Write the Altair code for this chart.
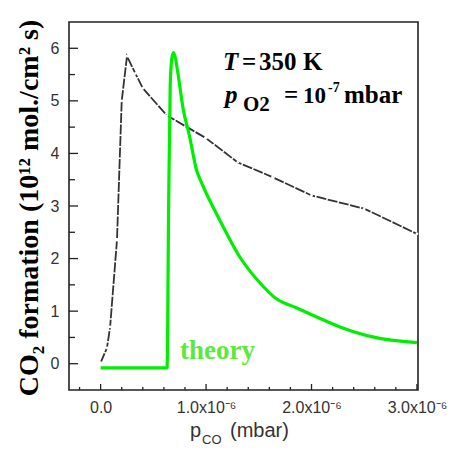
import altair as alt
import pandas as pd

# experimental data (x in mbar, y in 10^12 mol/cm^2 s)
exp_x = [0.0, 0.06e-6, 0.09e-6, 0.155e-6, 0.2e-6, 0.25e-6, 0.33e-6, 0.4e-6, 0.63e-6,
         1.0e-6, 1.3e-6, 1.63e-6, 2.0e-6, 2.5e-6, 3.0e-6]
exp_y = [0.02, 0.3, 0.7, 2.35, 5.0, 5.85, 5.52, 5.24, 4.72,
         4.29, 3.83, 3.55, 3.2, 2.95, 2.47]

# theory curve
th_x = [0.0, 0.63e-6, 0.645e-6, 0.66e-6, 0.675e-6, 0.69e-6, 0.705e-6, 0.735e-6, 0.78e-6,
        0.845e-6, 0.91e-6, 0.96e-6, 1.13e-6, 1.32e-6, 1.51e-6, 1.67e-6, 1.85e-6, 1.96e-6,
        2.27e-6, 2.58e-6, 3.0e-6]
th_y = [-0.08, -0.08, 3.0, 5.3, 5.8, 5.92, 5.85, 5.5, 4.88,
        4.31, 3.68, 3.43, 2.73, 2.03, 1.54, 1.23, 1.07, 0.97,
        0.7, 0.51, 0.4]

x_major = [0.0, 1e-6, 2e-6, 3e-6]
x_minor = [-0.2e-6, 0.2e-6, 0.4e-6, 0.6e-6, 0.8e-6, 1.2e-6, 1.4e-6, 1.6e-6, 1.8e-6,
           2.2e-6, 2.4e-6, 2.6e-6, 2.8e-6]
y_major = [0, 1, 2, 3, 4, 5, 6]
y_minor = [0.5, 1.5, 2.5, 3.5, 4.5, 5.5]

W, H = 349, 368
OX, OY = 69, 22  # page position of plot origin

xs = alt.Scale(domain=[-0.3e-6, 3.01e-6], nice=False, zero=False)
ys = alt.Scale(domain=[-0.5, 6.5], nice=False, zero=False)

exp_df = pd.DataFrame({"x": exp_x, "y": exp_y})
th_df = pd.DataFrame({"x": th_x, "y": th_y})

base_x_axis = alt.Axis(values=x_major, ticks=False, domain=False, grid=False,
                       labelExpr="datum.value == 0 ? '0.0' : format(datum.value*1e6, '.1f') + 'x10⁻⁶'",
                       labelFont="Liberation Sans", labelFontSize=16, labelColor="#333",
                       labelPadding=9, title=None, labelFlush=False, zindex=1)
base_y_axis = alt.Axis(values=y_major, ticks=False, domain=False, grid=False, format="d",
                       labelFont="Liberation Sans", labelFontSize=16, labelColor="#333",
                       labelPadding=10, title=None, zindex=1)

exp_line = alt.Chart(exp_df).mark_line(color="#333", strokeWidth=1.8, strokeDash=[10, 1.5]).encode(
    x=alt.X("x:Q", scale=xs, axis=base_x_axis),
    y=alt.Y("y:Q", scale=ys, axis=base_y_axis),
)
exp_pts = alt.Chart(exp_df).mark_point(filled=True, color="white", size=8, opacity=1).encode(
    x=alt.X("x:Q", scale=xs), y=alt.Y("y:Q", scale=ys)
)
th_line = alt.Chart(th_df).mark_line(color="#00ee00", strokeWidth=3.2, interpolate="monotone").encode(
    x=alt.X("x:Q", scale=xs), y=alt.Y("y:Q", scale=ys)
)

def xticks(vals, ln):
    return alt.Chart(pd.DataFrame({"v": vals})).mark_rule(color="#222", strokeWidth=1.3).encode(
        x=alt.X("v:Q", scale=xs), y=alt.value(H), y2=alt.value(H - ln))

def yticks(vals, ln):
    return alt.Chart(pd.DataFrame({"v": vals})).mark_rule(color="#222", strokeWidth=1.3).encode(
        y=alt.Y("v:Q", scale=ys), x=alt.value(0), x2=alt.value(ln))

def txt(text, px, py, size, font="Liberation Serif", weight="bold", style="normal",
        color="black", align="left", angle=0, baseline="alphabetic"):
    return alt.Chart(alt.Data(values=[{"t": text}])).mark_text(
        font=font, fontSize=size, fontWeight=weight, fontStyle=style, color=color,
        align=align, angle=angle, baseline=baseline
    ).encode(text="t:N", x=alt.value(px - OX), y=alt.value(py - OY))

texts = [
    txt("CO₂ formation (10¹² mol./cm² s)", 38, 208, 28, angle=270, align="center"),
    txt("T", 223, 70, 25, style="italic"),
    txt("=", 242, 70, 25),
    txt("350", 259, 70, 25),
    txt("K", 303, 70, 25),
    txt("p", 225, 103, 25, style="italic"),
    txt("O2", 243, 111, 21),
    txt("=", 284, 103, 25),
    txt("10", 303, 103, 23),
    txt("-7", 328, 92, 14),
    txt("mbar", 344, 103, 25),
    txt("theory", 180, 359, 27, color="#5ee83c"),
    txt("p", 190, 437, 20, font="Liberation Sans", weight="normal", color="#333"),
    txt("CO", 202, 444, 13, font="Liberation Sans", weight="normal", color="#333"),
    txt("(mbar)", 230, 437, 20, font="Liberation Sans", weight="normal", color="#333"),
]

chart = alt.layer(
    exp_line, exp_pts, th_line,
    xticks(x_major, 6), xticks(x_minor, 3), yticks(y_major, 9), yticks(y_minor, 6),
    *texts
).properties(
    width=W, height=H,
    autosize=alt.AutoSizeParams(type="none"),
    padding={"left": 61, "top": 14, "right": 32, "bottom": 58},
    background="white",
).configure_view(stroke="#222", strokeWidth=1.6)

chart.save("out.html", embed_options={"renderer": "svg", "actions": False})
